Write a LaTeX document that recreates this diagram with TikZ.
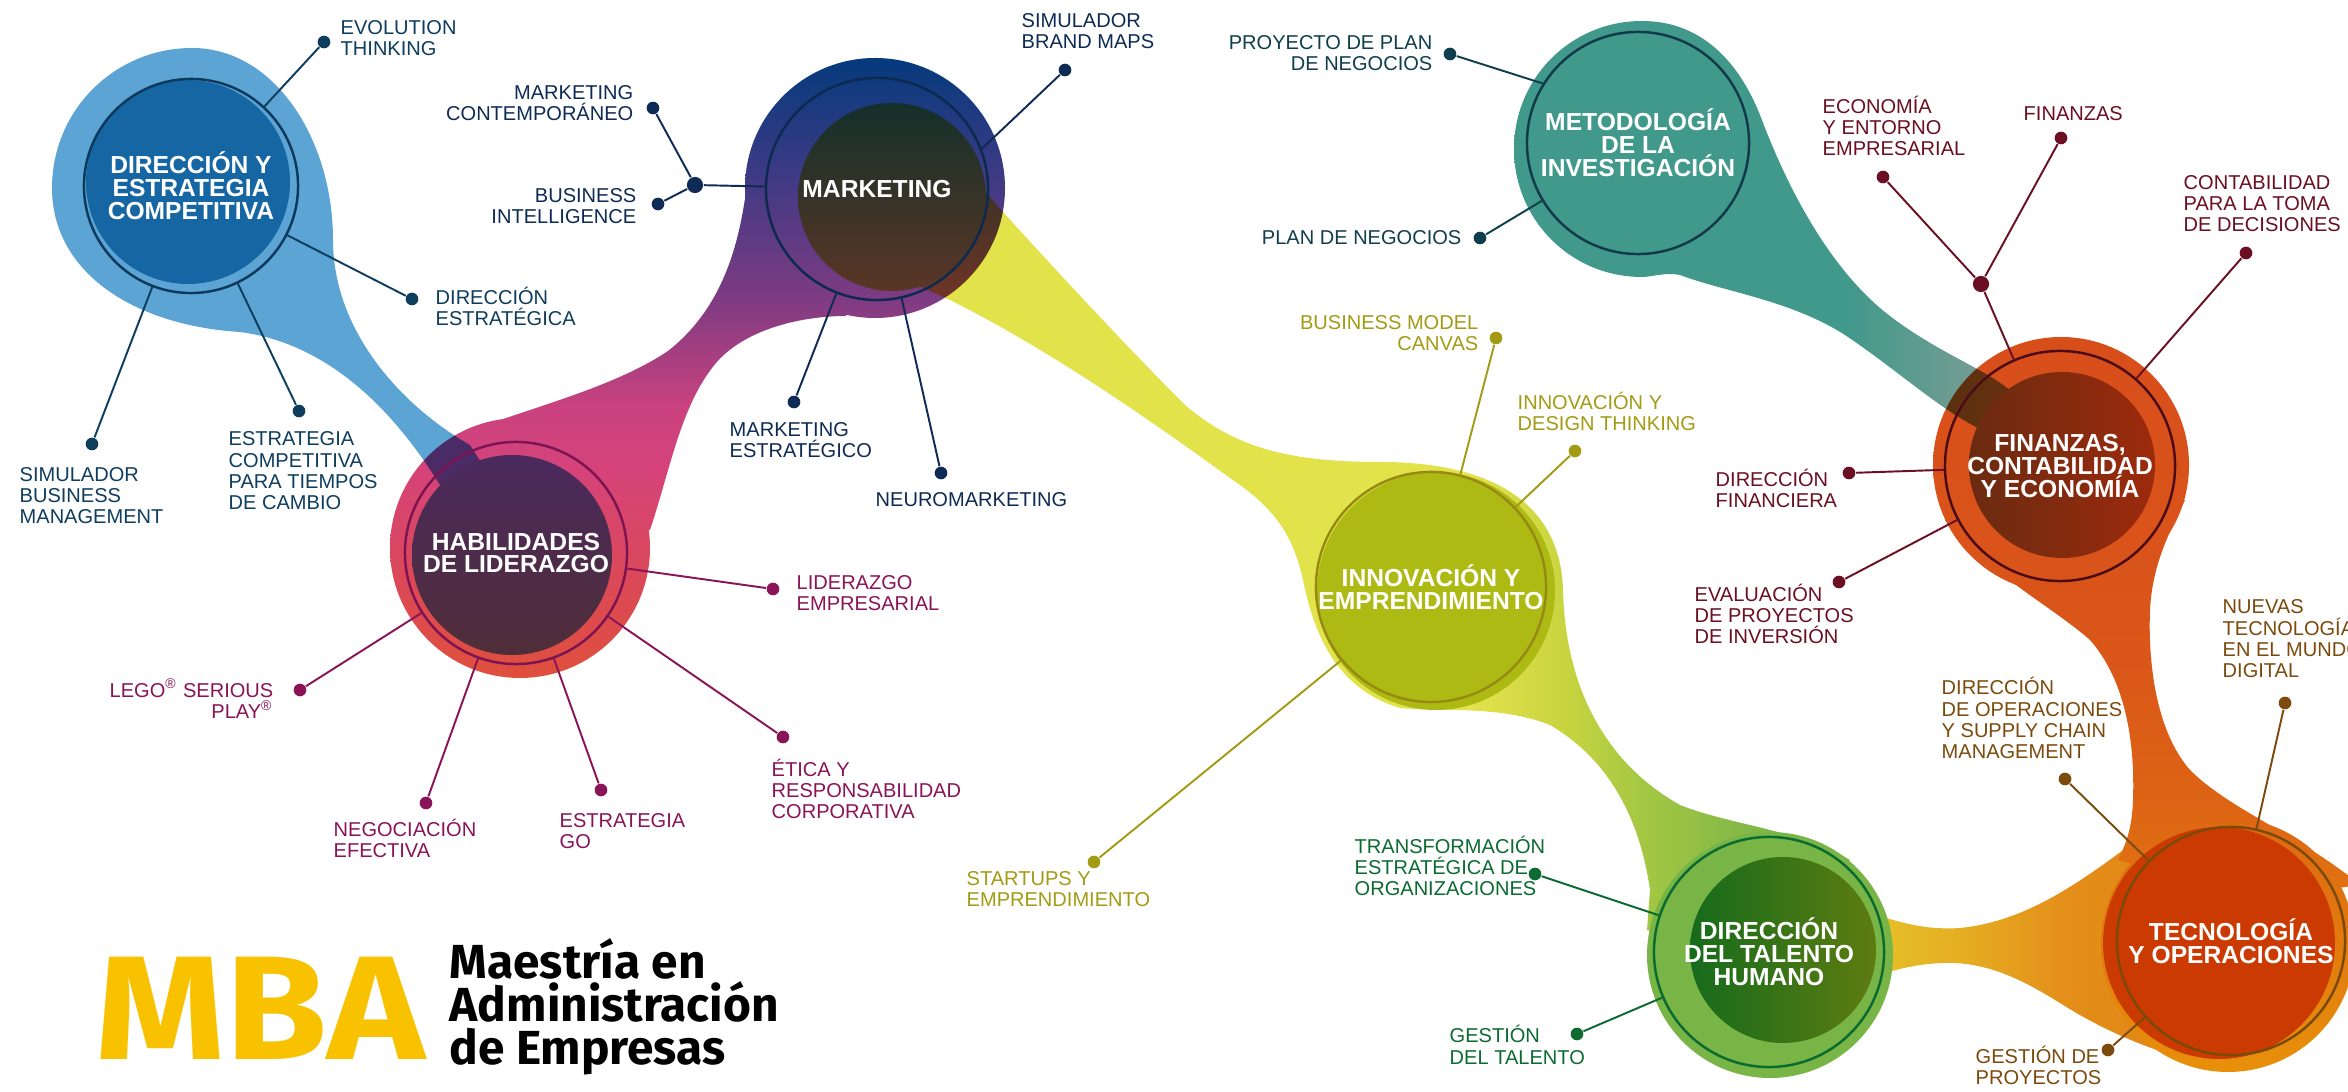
\documentclass[tikz,border=0pt]{standalone}
\usepackage{fontspec}
\setmainfont{Liberation Sans}
\newfontfamily\logofont{Fira Sans}
\newfontfamily\mbafont{Fira Sans}[FakeStretch=1.12]
\usetikzlibrary{positioning}

% colours
\definecolor{dirblue}{HTML}{5BA4D4}
\definecolor{dirin}{HTML}{1566A3}
\definecolor{dirring}{HTML}{0D3A5C}
\definecolor{dircol}{HTML}{0E3D5E}
\definecolor{mknavy}{HTML}{033A7C}
\definecolor{mkmid}{HTML}{3D3A84}
\definecolor{mkpurple}{HTML}{7E3B82}
\definecolor{mkmag}{HTML}{C9427F}
\definecolor{habpink}{HTML}{D5437A}
\definecolor{habred1}{HTML}{DC4A50}
\definecolor{habred}{HTML}{DF503C}
\definecolor{mkin1}{HTML}{14302A}
\definecolor{mkin2}{HTML}{5A3626}
\definecolor{mktring}{HTML}{0C2A50}
\definecolor{mktcol}{HTML}{0E2B55}
\definecolor{habin1}{HTML}{4A295E}
\definecolor{habin2}{HTML}{502E38}
\definecolor{habring}{HTML}{7E1352}
\definecolor{habcol}{HTML}{8A1458}
\definecolor{yel}{HTML}{E2E24B}
\definecolor{yel2}{HTML}{C9D540}
\definecolor{yel3}{HTML}{A3C743}
\definecolor{grn1}{HTML}{80B747}
\definecolor{grn2}{HTML}{78B446}
\definecolor{innfill}{HTML}{AEBA14}
\definecolor{innring}{HTML}{978A12}
\definecolor{inncol}{HTML}{A39B14}
\definecolor{teal}{HTML}{40998B}
\definecolor{teal2}{HTML}{6F9C92}
\definecolor{teal3}{HTML}{7D9D95}
\definecolor{metring}{HTML}{123A4A}
\definecolor{metcol}{HTML}{0F3E4C}
\definecolor{or1}{HTML}{D84E1B}
\definecolor{or2}{HTML}{DA5619}
\definecolor{or3}{HTML}{DD6414}
\definecolor{or4}{HTML}{E27C0E}
\definecolor{or5}{HTML}{E8900A}
\definecolor{finin1}{HTML}{6A2B10}
\definecolor{finin2}{HTML}{9D2A0D}
\definecolor{finring}{HTML}{4A0C1A}
\definecolor{fincol}{HTML}{6B0F22}
\definecolor{tb1}{HTML}{E6C62A}
\definecolor{tb2}{HTML}{E5AE22}
\definecolor{tb3}{HTML}{E4901A}
\definecolor{tb4}{HTML}{E07C12}
\definecolor{talgreen}{HTML}{78B446}
\definecolor{talin1}{HTML}{166B1C}
\definecolor{talin2}{HTML}{5E7C10}
\definecolor{talring}{HTML}{0A6B2E}
\definecolor{talcol}{HTML}{0B6B30}
\definecolor{tecin}{HTML}{CB3A00}
\definecolor{tecring}{HTML}{7A4A0A}
\definecolor{teccol}{HTML}{7B4A0C}
\definecolor{mbayel}{HTML}{F9C200}

% shadings
\pgfdeclareverticalshading{mkhab}{100bp}{color(0bp)=(habred); color(25bp)=(habred); color(31bp)=(habred1); color(42bp)=(habpink); color(47bp)=(mkmag); color(55.5bp)=(mkpurple); color(65.5bp)=(mkmid); color(75bp)=(mknavy); color(100bp)=(mknavy)}
\pgfdeclarehorizontalshading{yelgrn}{100bp}{color(0bp)=(yel); color(57bp)=(yel); color(61bp)=(yel2); color(65bp)=(yel3); color(70bp)=(grn1); color(75bp)=(grn2); color(100bp)=(grn2)}
\pgfdeclarehorizontalshading{tealsh}{100bp}{color(0bp)=(teal); color(57bp)=(teal); color(67.5bp)=(teal2); color(75bp)=(teal3); color(100bp)=(teal3)}
\pgfdeclareverticalshading{orng}{100bp}{color(0bp)=(or5); color(25bp)=(or5); color(33.5bp)=(or4); color(43.5bp)=(or3); color(53.5bp)=(or2); color(75bp)=(or1); color(100bp)=(or1)}
\pgfdeclarehorizontalshading{tband}{100bp}{color(0bp)=(tb1); color(25bp)=(tb1); color(39bp)=(tb2); color(51bp)=(tb3); color(75bp)=(tb4); color(100bp)=(tb4)}

\begin{document}
\begin{tikzpicture}[
    x=0.01cm, y=-0.01cm,
    topic/.style={circle, inner sep=0pt, line width=0.7pt, text=white, align=center,
      font=\fontsize{7}{6.5}\selectfont\bfseries},
    leaf/.style={inner sep=0pt, font=\fontsize{5.7}{6.1}\selectfont},
    leafl/.style={leaf, anchor=base west, align=left},
    leafr/.style={leaf, anchor=base east, align=right},
    bullet/.style={circle, inner sep=0pt, minimum size=3.6pt},
    hub/.style={circle, inner sep=0pt, minimum size=4.6pt},
    link/.style={line width=0.55pt}
  ]
  \useasboundingbox (0,0) rectangle (2348,1092);
  \fill[white] (0,0) rectangle (2348,1092);

  % Blobs
  \shade[shading=mkhab] (700,55) (700,680) (875,188) circle[radius=130];
  \shade[shading=mkhab] (700,55) (700,680) (520,548) circle[radius=130];
  \shade[shading=mkhab] (700,55) (700,680) (454,437) .. controls (520,410) and (610,390) .. (668,351)
    .. controls (720,310) and (740,250) .. (748,175) -- (860,250) -- (846,316)
    .. controls (800,316) and (740,330) .. (712,368) .. controls (680,410) and (670,470) .. (650,530)
    -- (520,500) -- cycle;
  \fill[dirblue, blend mode=multiply] (192,48) .. controls (275,48) and (333,140) .. (333,240)
    .. controls (333,330) and (400,405) .. (470,445) -- (505,500) -- (480,560)
    .. controls (420,430) and (340,345) .. (240,332) .. controls (130,325) and (52,270) .. (52,188)
    .. controls (52,110) and (115,48) .. (192,48) -- cycle;
  \shade[shading=yelgrn, blend mode=multiply] (790,500) (1860,500)
    (915,112) .. controls (950,150) and (975,180) .. (1003,212)
    .. controls (1060,275) and (1130,350) .. (1185,405)
    .. controls (1235,448) and (1290,462) .. (1380,462)
    .. controls (1480,462) and (1560,495) .. (1563,590)
    .. controls (1565,680) and (1600,760) .. (1680,805)
    .. controls (1730,825) and (1800,830) .. (1850,860)
    -- (1700,940) -- (1647,930) -- (1650,890)
    .. controls (1640,820) and (1610,760) .. (1550,725)
    .. controls (1500,705) and (1440,712) .. (1400,708)
    .. controls (1340,690) and (1315,640) .. (1303,580)
    .. controls (1292,530) and (1270,505) .. (1230,478)
    .. controls (1150,420) and (1050,350) .. (950,300)
    .. controls (880,268) and (810,240) .. (802,190)
    .. controls (800,140) and (870,95) .. (915,112) -- cycle;
  \shade[shading=tband] (1845,950) (2255,950)
    (1850,905) .. controls (1900,925) and (1930,930) .. (1960,928)
    .. controls (2020,922) and (2070,890) .. (2130,845) -- (2200,900) -- (2248,1069)
    .. controls (2180,1065) and (2110,1035) .. (2060,1003)
    .. controls (2020,978) and (1990,965) .. (1955,963)
    .. controls (1920,962) and (1890,970) .. (1850,985) -- cycle;
  \shade[shading=orng] (2100,335) (2100,1075) (2061,465) circle[radius=128];
  \shade[shading=orng] (2100,335) (2100,1075) (2228,945) circle[radius=127];
  \shade[shading=orng] (2100,335) (2100,1075) (1990,480) -- (1945,520)
    .. controls (1990,575) and (2050,605) .. (2090,640) .. controls (2125,680) and (2135,740) .. (2133,800)
    .. controls (2132,825) and (2128,840) .. (2118,860) -- (2250,900) -- (2360,885)
    .. controls (2300,835) and (2230,810) .. (2190,770) .. controls (2155,730) and (2148,660) .. (2150,610)
    .. controls (2152,570) and (2165,540) .. (2185,500) -- cycle;
  \shade[shading=tealsh, blend mode=multiply] (1500,150) (2040,150)
    (1642,21) .. controls (1700,21) and (1738,60) .. (1760,115)
    .. controls (1790,195) and (1830,265) .. (1880,308)
    .. controls (1930,350) and (1985,368) .. (2012,392)
    .. controls (2035,412) and (2012,445) .. (1982,430)
    .. controls (1940,410) and (1900,372) .. (1845,335)
    .. controls (1790,300) and (1725,292) .. (1680,275)
    .. controls (1665,272) and (1652,277) .. (1642,277)
    .. controls (1571,277) and (1514,220) .. (1514,149)
    .. controls (1514,78) and (1571,21) .. (1642,21) -- cycle;
  \fill[talgreen] (1770,955) circle[radius=123];

  % Inner discs
  \fill[dirin] (188,182) circle[radius=102];
  \shade[top color=mkin1, bottom color=mkin2] (892,197) circle[radius=94];
  \shade[top color=habin1, bottom color=habin2] (512,555) circle[radius=100];
  \fill[innfill] (1436,591) circle[radius=119];
  \shade[left color=finin1, right color=finin2] (2062,465) circle[radius=93];
  \shade[left color=talin1, right color=talin2] (1783,950) circle[radius=93];
  \fill[tecin] (2219,943) circle[radius=116];

  % Topics
  \node[topic, draw=dirring, minimum size=2.14cm] (dir) at (191,186) {DIRECCIÓN Y\\ESTRATEGIA\\COMPETITIVA};
  \node[topic, draw=mktring, minimum size=2.22cm] (mkt) at (877,189) {MARKETING};
  \node[topic, draw=habring, minimum size=2.22cm] (hab) at (516,553) {HABILIDADES\\DE LIDERAZGO};
  \node[topic, draw=innring, minimum size=2.30cm] (inn) at (1431,587) {INNOVACIÓN Y\\EMPRENDIMIENTO};
  \node[topic, draw=metring, minimum size=2.22cm] (met) at (1638,143) {METODOLOGÍA\\DE LA\\INVESTIGACIÓN};
  \node[topic, draw=finring, minimum size=2.30cm] (fin) at (2060,466) {FINANZAS,\\CONTABILIDAD\\Y ECONOMÍA};
  \node[topic, draw=talring, minimum size=2.30cm] (tal) at (1769,952) {DIRECCIÓN\\DEL TALENTO\\HUMANO};
  \node[topic, draw=tecring, minimum size=2.28cm] (tec) at (2231,941) {TECNOLOGÍA\\Y OPERACIONES};

  % Dirección y estrategia competitiva
  \node[bullet, fill=dircol] (evo) at (324,42) {};
  \node[bullet, fill=dircol] (dre) at (412,299) {};
  \node[bullet, fill=dircol] (ecp) at (299,411) {};
  \node[bullet, fill=dircol] (sbm) at (92,444) {};
  \node[leafl, text=dircol] (evo-t) at (340,56) {EVOLUTION\\THINKING};
  \node[leafl, text=dircol] (dre-t) at (435,326) {DIRECCIÓN\\ESTRATÉGICA};
  \node[leafl, text=dircol] (ecp-t) at (228,510) {ESTRATEGIA\\COMPETITIVA\\PARA TIEMPOS\\DE CAMBIO};
  \node[leafl, text=dircol] (sbm-t) at (19,524) {SIMULADOR\\BUSINESS\\MANAGEMENT};
  \draw[link, dircol] (dir) -- (evo);
  \draw[link, dircol] (dir) -- (dre);
  \draw[link, dircol] (dir) -- (ecp);
  \draw[link, dircol] (dir) -- (sbm);

  % Marketing
  \node[bullet, fill=mktcol] (sbr) at (1065,70) {};
  \node[hub, fill=mktcol] (mkj) at (695,185) {};
  \node[bullet, fill=mktcol] (mco) at (653,108) {};
  \node[bullet, fill=mktcol] (bin) at (658,204) {};
  \node[bullet, fill=mktcol] (mes) at (794,402) {};
  \node[bullet, fill=mktcol] (neu) at (941,473) {};
  \node[leafl, text=mktcol] (sbr-t) at (1021,49) {SIMULADOR\\BRAND MAPS};
  \node[leafr, text=mktcol] (mco-t) at (634,121) {MARKETING\\CONTEMPORÁNEO};
  \node[leafr, text=mktcol] (bin-t) at (637,224) {BUSINESS\\INTELLIGENCE};
  \node[leafl, text=mktcol] (mes-t) at (729,458) {MARKETING\\ESTRATÉGICO};
  \node[leafl, text=mktcol] (neu-t) at (875,507) {NEUROMARKETING};
  \draw[link, mktcol] (mkt.21) -- (sbr);
  \draw[link, mktcol] (mkt) -- (mkj);
  \draw[link, mktcol] (mkj) -- (mco);
  \draw[link, mktcol] (mkj) -- (bin);
  \draw[link, mktcol] (mkt) -- (mes);
  \draw[link, mktcol] (mkt) -- (neu);

  % Habilidades de liderazgo
  \node[bullet, fill=habcol] (lid) at (773,589) {};
  \node[bullet, fill=habcol] (eti) at (783,737) {};
  \node[bullet, fill=habcol] (ego) at (601,790) {};
  \node[bullet, fill=habcol] (neg) at (426,803) {};
  \node[bullet, fill=habcol] (lsp) at (300,690) {};
  \node[leafl, text=habcol] (lid-t) at (796,611) {LIDERAZGO\\EMPRESARIAL};
  \node[leafl, text=habcol] (eti-t) at (771,819) {ÉTICA Y\\RESPONSABILIDAD\\CORPORATIVA};
  \node[leafl, text=habcol] (ego-t) at (559,849) {ESTRATEGIA\\GO};
  \node[leafl, text=habcol] (neg-t) at (333,858) {NEGOCIACIÓN\\EFECTIVA};
  \node[leafr, text=habcol] (lsp-t) at (274,719) {LEGO\textsuperscript{®} SERIOUS\\PLAY\textsuperscript{®}};
  \draw[link, habcol] (hab) -- (lid);
  \draw[link, habcol] (hab) -- (eti);
  \draw[link, habcol] (hab) -- (ego);
  \draw[link, habcol] (hab) -- (neg);
  \draw[link, habcol] (hab) -- (lsp);

  % Innovación y emprendimiento
  \node[bullet, fill=inncol] (bmc) at (1496,338) {};
  \node[bullet, fill=inncol] (idt) at (1575,451) {};
  \node[bullet, fill=inncol] (sue) at (1094,862) {};
  \node[leafr, text=inncol] (bmc-t) at (1479,351) {BUSINESS MODEL\\CANVAS};
  \node[leafl, text=inncol] (idt-t) at (1517,431) {INNOVACIÓN Y\\DESIGN THINKING};
  \node[leafl, text=inncol] (sue-t) at (966,907) {STARTUPS Y\\EMPRENDIMIENTO};
  \draw[link, inncol] (inn) -- (bmc);
  \draw[link, inncol] (inn) -- (idt);
  \draw[link, inncol] (inn) -- (sue);

  % Metodología de la investigación
  \node[bullet, fill=metcol] (ppn) at (1450,54) {};
  \node[bullet, fill=metcol] (pdn) at (1480,238) {};
  \node[leafr, text=metcol] (ppn-t) at (1433,71) {PROYECTO DE PLAN\\DE NEGOCIOS};
  \node[leafr, text=metcol] (pdn-t) at (1462,245) {PLAN DE NEGOCIOS};
  \draw[link, metcol] (met.148) -- (ppn);
  \draw[link, metcol] (met) -- (pdn);

  % Finanzas, contabilidad y economía
  \node[hub, fill=fincol] (fnj) at (1981,284) {};
  \node[bullet, fill=fincol] (eee) at (1883,177) {};
  \node[bullet, fill=fincol] (fnz) at (2061,138) {};
  \node[bullet, fill=fincol] (ctd) at (2246,253) {};
  \node[bullet, fill=fincol] (dfi) at (1849,473) {};
  \node[bullet, fill=fincol] (epi) at (1839,582) {};
  \node[leafl, text=fincol] (eee-t) at (1822,156) {ECONOMÍA\\Y ENTORNO\\EMPRESARIAL};
  \node[leafl, text=fincol] (fnz-t) at (2023,121) {FINANZAS};
  \node[leafl, text=fincol] (ctd-t) at (2183,232) {CONTABILIDAD\\PARA LA TOMA\\DE DECISIONES};
  \node[leafl, text=fincol] (dfi-t) at (1715,508) {DIRECCIÓN\\FINANCIERA};
  \node[leafl, text=fincol] (epi-t) at (1694,644) {EVALUACIÓN\\DE PROYECTOS\\DE INVERSIÓN};
  \draw[link, fincol] (fin) -- (fnj);
  \draw[link, fincol] (fnj) -- (eee);
  \draw[link, fincol] (fnj) -- (fnz);
  \draw[link, fincol] (fin) -- (ctd);
  \draw[link, fincol] (fin) -- (dfi);
  \draw[link, fincol] (fin) -- (epi);

  % Tecnología y operaciones
  \node[bullet, fill=teccol] (dop) at (2065,779) {};
  \node[bullet, fill=teccol] (ntm) at (2285,703) {};
  \node[bullet, fill=teccol] (gpr) at (2108,1050) {};
  \node[leafl, text=teccol] (dop-t) at (1941,759) {DIRECCIÓN\\DE OPERACIONES\\Y SUPPLY CHAIN\\MANAGEMENT};
  \node[leafl, text=teccol] (ntm-t) at (2222,678) {NUEVAS\\TECNOLOGÍAS\\EN EL MUNDO\\DIGITAL};
  \node[leafl, text=teccol] (gpr-t) at (1975,1085) {GESTIÓN DE\\PROYECTOS};
  \draw[link, teccol] (tec) -- (dop);
  \draw[link, teccol] (tec) -- (ntm);
  \draw[link, teccol] (tec) -- (gpr);

  % Dirección del talento humano
  \node[bullet, fill=talcol] (teo) at (1535,874) {};
  \node[bullet, fill=talcol] (gta) at (1577,1034) {};
  \node[leafl, text=talcol] (teo-t) at (1354,896) {TRANSFORMACIÓN\\ESTRATÉGICA DE\\ORGANIZACIONES};
  \node[leafl, text=talcol] (gta-t) at (1449,1064) {GESTIÓN\\DEL TALENTO};
  \draw[link, talcol] (tal) -- (teo);
  \draw[link, talcol] (tal) -- (gta);

  % Logo
  \node[anchor=base west, inner sep=0pt, text=mbayel,
    font=\mbafont\fontsize{42}{42}\selectfont\bfseries] (mba) at (95,1060) {MBA};
  \node[anchor=base west, inner sep=0pt, align=left,
    font=\logofont\fontsize{13.6}{12.2}\selectfont\bfseries] (mbaname) at (449,1064) {Maestría en\\Administración\\de Empresas};
\end{tikzpicture}
\end{document}
